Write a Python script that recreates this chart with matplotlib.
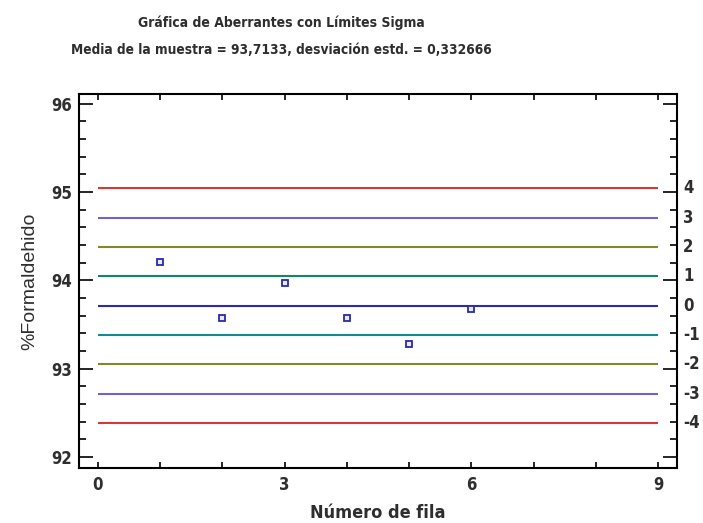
import matplotlib
matplotlib.use("Agg")
import matplotlib.pyplot as plt
from matplotlib import font_manager
from matplotlib.font_manager import FontProperties
from matplotlib.ticker import MultipleLocator, FixedLocator
import matplotlib.transforms as mtransforms

# Observations (row number vs. % formaldehyde)
row_numbers = [1, 2, 3, 4, 5, 6]
formaldehyde = [94.21, 93.57, 93.97, 93.57, 93.28, 93.68]

# Sample statistics shown in the title
sample_mean = 93.7133
sample_sd = 0.332666

# Sigma limit levels and their line colours
sigma_levels = [4, 3, 2, 1, 0, -1, -2, -3, -4]
sigma_colors = ["#d23a3a", "#7462cc", "#85862a", "#12866a", "#2b2bab",
                "#138a8e", "#85862a", "#7462cc", "#d23a3a"]

x_ticks = [0, 3, 6, 9]
y_ticks = [92, 93, 94, 95, 96]


def pick_narrow_bold():
    """Return a bold condensed/narrow font file if one is installed."""
    cands = []
    for f in font_manager.fontManager.ttflist:
        nm = (f.name + " " + f.fname).lower()
        narrowish = ("narrow" in nm or "condensed" in nm or f.stretch in ("condensed", "semi-condensed"))
        if narrowish and "oblique" not in nm and "italic" not in nm:
            wt = f.weight if isinstance(f.weight, int) else 700 if "bold" in str(f.weight) else 400
            cands.append((abs(wt - 700), "semi" in nm, f.fname))
    if cands:
        cands.sort()
        return cands[0][2]
    return None


narrow_file = pick_narrow_bold()
if narrow_file:
    def nfont(size):
        return FontProperties(fname=narrow_file, size=size)
else:
    def nfont(size):
        return FontProperties(family=["Liberation Sans", "DejaVu Sans"], weight="bold", size=size * 0.8)

plain = FontProperties(family=["Liberation Sans", "DejaVu Sans"], size=14)
text_col = "#2e2e2e"

fig = plt.figure(figsize=(7.03, 5.23), dpi=100)
ax = fig.add_axes([79 / 703, 1 - 468 / 523, (677 - 79) / 703, (468 - 94) / 523])

blend = mtransforms.blended_transform_factory(ax.transAxes, ax.transData)
for k, col in zip(sigma_levels, sigma_colors):
    level = sample_mean + k * sample_sd
    ax.plot([0, 9], [level, level], color=col, lw=1.5, solid_capstyle="butt", zorder=2)
    ax.text(1.01, level, str(k), transform=blend, ha="left", va="center",
            fontproperties=nfont(12), color=text_col)

ax.plot(row_numbers, formaldehyde, ls="none", marker="s", markersize=4.3,
        markerfacecolor="#e8e8ff", markeredgecolor="#2b2ba3", markeredgewidth=1.3, zorder=3)

ax.set_xlim(-0.3, 9.3)
ax.set_ylim(91.875, 96.11)

ax.xaxis.set_major_locator(FixedLocator(x_ticks))
ax.xaxis.set_minor_locator(MultipleLocator(1))
ax.yaxis.set_major_locator(FixedLocator(y_ticks))
ax.yaxis.set_minor_locator(MultipleLocator(0.2))

ax.tick_params(axis="both", which="both", direction="in", top=True, right=True,
               color="black", width=1.2, labelcolor=text_col)
ax.tick_params(axis="x", which="both", length=4.5, pad=6)
ax.tick_params(axis="y", which="major", length=10, pad=5)
ax.tick_params(axis="y", which="minor", length=5)

for lab in ax.get_xticklabels() + ax.get_yticklabels():
    lab.set_fontproperties(nfont(12))

for sp in ax.spines.values():
    sp.set_linewidth(1.5)
    sp.set_color("black")

ax.set_ylabel("%Formaldehido", fontproperties=plain, color=text_col, labelpad=9)
ax.set_xlabel("Número de fila", fontproperties=nfont(13), color=text_col, labelpad=7)

fig.text(281 / 703, 1 - 23 / 523, "Gráfica de Aberrantes con Límites Sigma",
         ha="center", va="center", fontproperties=nfont(10), color=text_col)
fig.text(281 / 703, 1 - 50 / 523,
         "Media de la muestra = 93,7133, desviación estd. = 0,332666",
         ha="center", va="center", fontproperties=nfont(9.8), color=text_col)

fig.savefig("out.png", dpi=100)
